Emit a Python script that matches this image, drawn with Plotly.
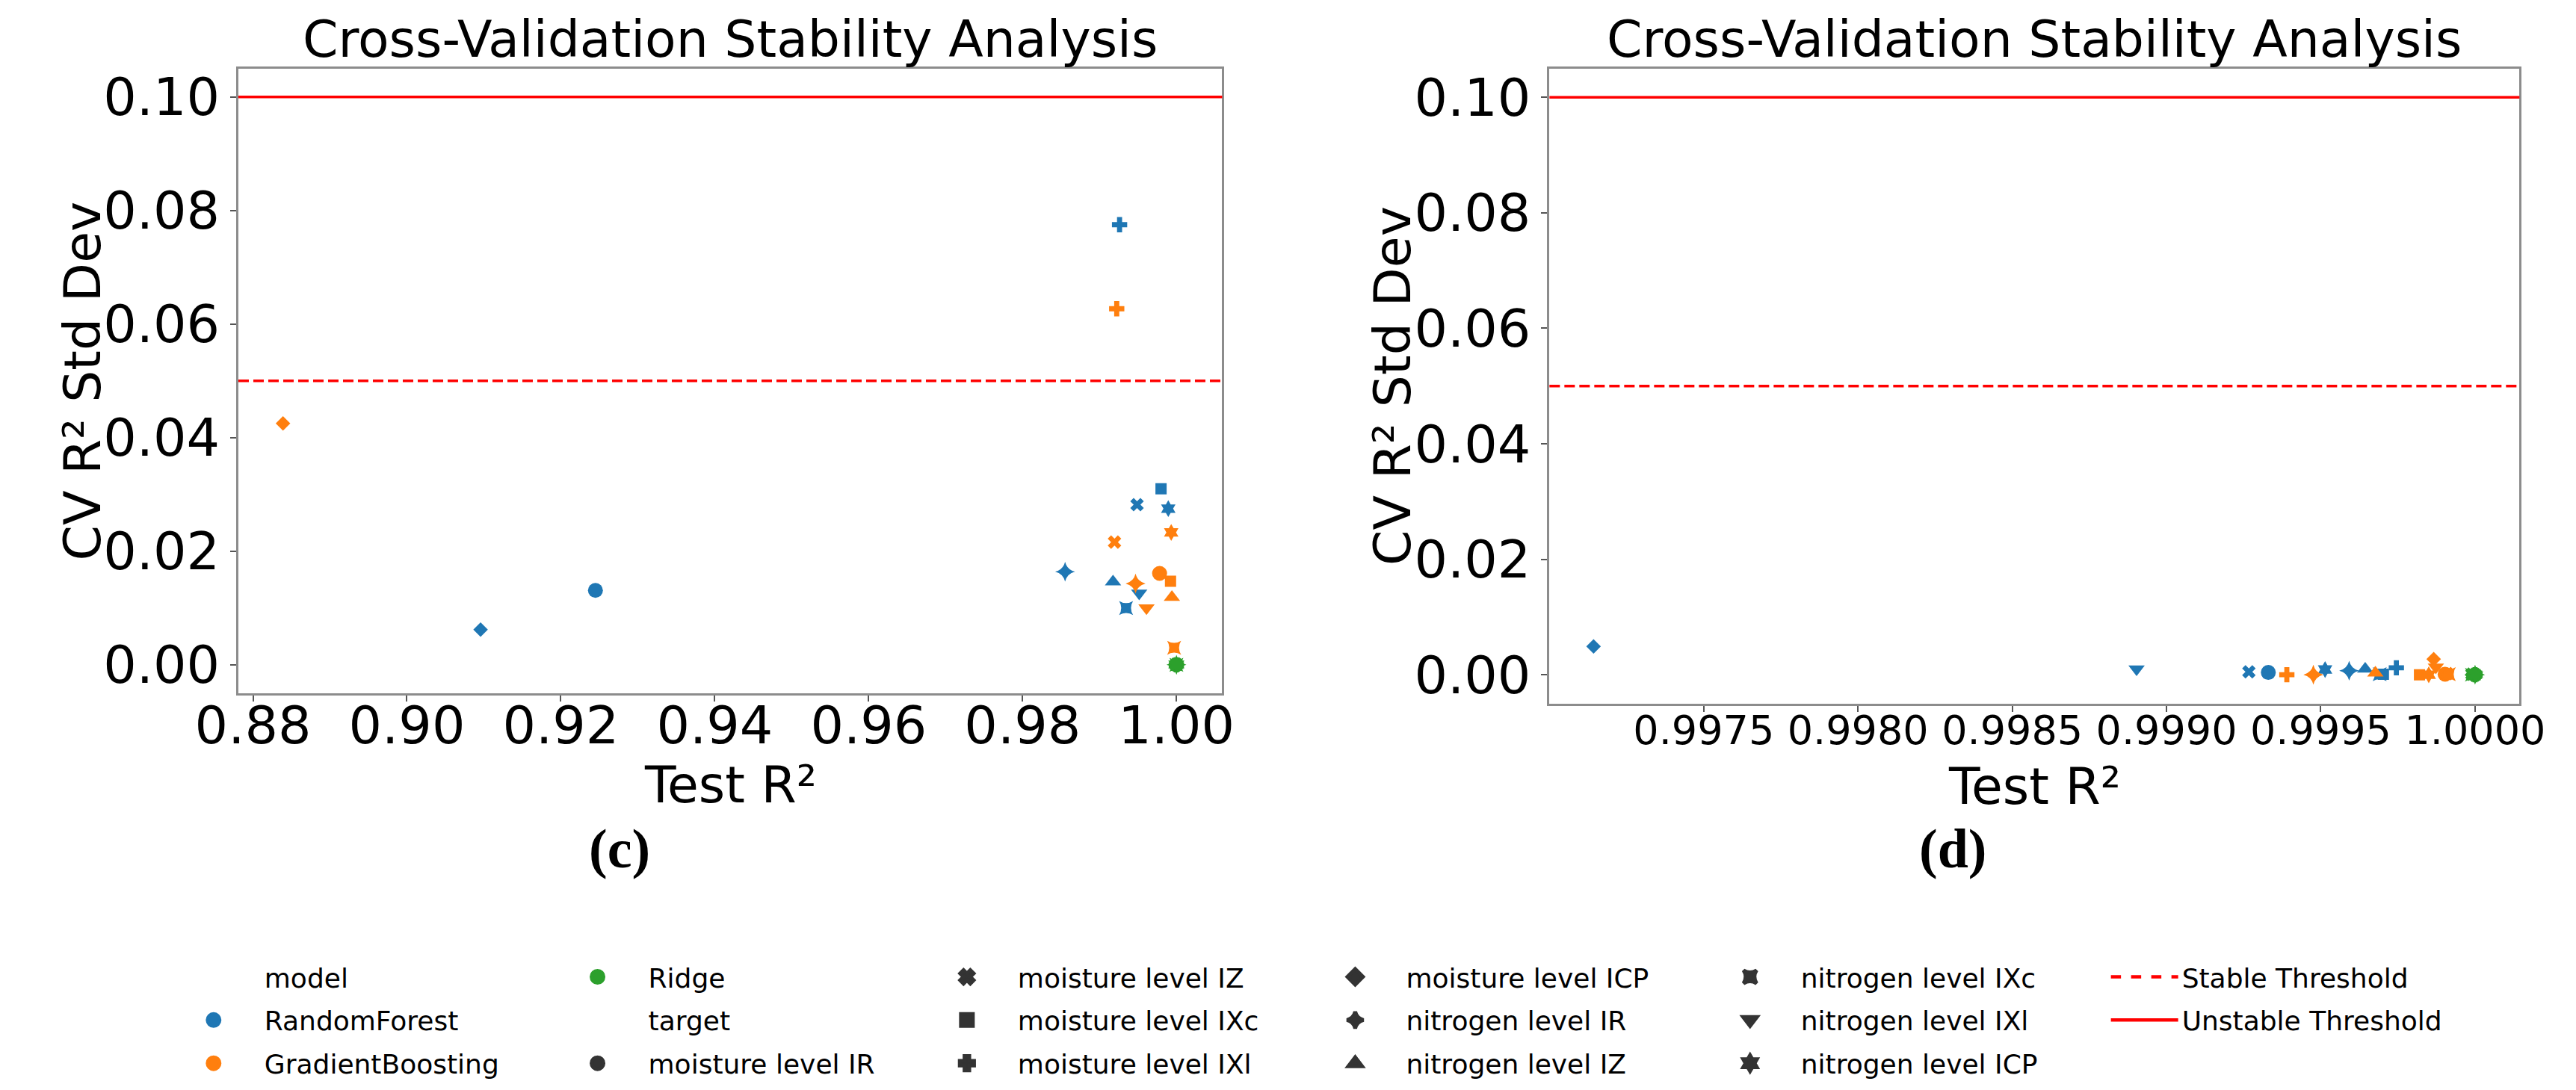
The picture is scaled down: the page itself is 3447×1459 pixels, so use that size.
import plotly.graph_objects as go

# ---------------- data ----------------
models = ["RandomForest", "GradientBoosting", "Ridge"]
targets = ["moisture level IR", "moisture level IZ", "moisture level IXc", "moisture level IXl",
           "moisture level ICP", "nitrogen level IR", "nitrogen level IZ", "nitrogen level IXc",
           "nitrogen level IXl", "nitrogen level ICP"]

# panel (c)
c_rf_r2 = [0.9245, 0.99488, 0.99800, 0.99261, 0.90957, 0.98553, 0.99176, 0.99346, 0.99516, 0.99894]
c_rf_std = [0.0131, 0.0282, 0.0310, 0.0775, 0.0062, 0.0164, 0.0146, 0.0100, 0.0126, 0.0275]
c_gb_r2 = [0.99781, 0.99195, 0.99923, 0.99224, 0.88390, 0.99469, 0.99941, 0.99970, 0.99611, 0.99932]
c_gb_std = [0.0161, 0.0216, 0.0147, 0.0627, 0.0425, 0.0143, 0.0119, 0.0030, 0.0100, 0.0233]
c_rg_r2 = [0.99999, 0.99999, 1.00000, 0.99999, 0.99998, 1.00000, 0.99999, 1.00000, 0.99999, 1.00000]
c_rg_std = [0.0000, 0.0001, 0.0000, 0.0000, 0.0001, 0.0000, 0.0000, 0.0000, 0.0001, 0.0000]

# panel (d)
d_rf_r2 = [0.99933, 0.999267, 0.999703, 0.999745, 0.997143, 0.999592, 0.999644, 0.999691, 0.998903, 0.999514]
d_rf_std = [0.0004, 0.0005, 0.0001, 0.0012, 0.0049, 0.0007, 0.0010, 0.0001, 0.0010, 0.0009]
d_gb_r2 = [0.999903, 0.999910, 0.999820, 0.999390, 0.999866, 0.999476, 0.999677, 0.999915, 0.999873, 0.999850]
d_gb_std = [0.0001, 0.0002, 0.0000, 0.0000, 0.0027, 0.0000, 0.0003, 0.0001, 0.0013, 0.0000]
d_rg_r2 = [1.00000, 0.99999, 1.00000, 1.00000, 0.99999, 1.00000, 1.00000, 0.99999, 1.00000, 1.00000]
d_rg_std = [0.0000, 0.0001, 0.0000, 0.0000, 0.0000, 0.0000, 0.0001, 0.0000, 0.0000, 0.0000]

stable_threshold = 0.05
unstable_threshold = 0.10

c_xticks = [0.88, 0.90, 0.92, 0.94, 0.96, 0.98, 1.00]
d_xticks = [0.9975, 0.9980, 0.9985, 0.9990, 0.9995, 1.0000]
yticks = [0.00, 0.02, 0.04, 0.06, 0.08, 0.10]

# ---------------- styles ----------------
model_colors = {"RandomForest": "#1f77b4", "GradientBoosting": "#ff7f0e", "Ridge": "#2ca02c"}
target_symbols = ["circle", "x", "square", "cross", "diamond", "star-diamond",
                  "triangle-up", "star-square", "triangle-down", "hexagram"]
symbol_sizes = {"circle": 20, "x": 16, "square": 15, "cross": 17, "diamond": 15,
                "star-diamond": 19, "triangle-up": 19, "star-square": 17,
                "triangle-down": 19, "hexagram": 17}

FONT = "DejaVu Sans"
W, H = 3447, 1459
SPINE = "#8c8c8c"

fig = go.Figure()

panels = [
    ("x", "y", [(c_rf_r2, c_rf_std), (c_gb_r2, c_gb_std), (c_rg_r2, c_rg_std)]),
    ("x2", "y2", [(d_rf_r2, d_rf_std), (d_gb_r2, d_gb_std), (d_rg_r2, d_rg_std)]),
]
sizes = [symbol_sizes[s] for s in target_symbols]
for xa, ya, series in panels:
    for m, (xs, ys) in zip(models, series):
        fig.add_trace(go.Scatter(
            x=xs, y=ys, mode="markers", xaxis=xa, yaxis=ya, showlegend=False,
            text=targets, hovertemplate="%{text}<br>%{x}<br>%{y}<extra>" + m + "</extra>",
            marker=dict(color=model_colors[m], symbol=target_symbols, size=sizes, opacity=1,
                        line=dict(width=0)),
        ))
    fig.add_shape(type="line", xref=xa + " domain", yref=ya, x0=0, x1=1,
                  y0=stable_threshold, y1=stable_threshold,
                  line=dict(color="#ff0000", width=3.5, dash="14px,6px"))
    fig.add_shape(type="line", xref=xa + " domain", yref=ya, x0=0, x1=1,
                  y0=unstable_threshold, y1=unstable_threshold,
                  line=dict(color="#ff0000", width=3.5))

# ---------------- legends (6 columns) ----------------
LEG_FONT = 36
_gid = [0]
def leg_entry(name, legend, color=None, symbol="circle", lines=None):
    _gid[0] += 1
    common = dict(x=[None], y=[None], name=name, legend=legend, legendgroup=f"g{_gid[0]}",
                  hoverinfo="skip")
    if lines is not None:
        fig.add_trace(go.Scatter(mode="lines", line=dict(color="#ff0000", width=4.5, dash=lines), **common))
    elif color is None:
        fig.add_trace(go.Scatter(mode="markers", marker=dict(color="rgba(0,0,0,0)", size=1,
                                                             line=dict(width=0)), **common))
    else:
        fig.add_trace(go.Scatter(mode="markers", marker=dict(color=color, symbol=symbol, size=16,
                                                             line=dict(width=5, color=color)),
                                 **common))

leg_entry("model", "legend")
leg_entry(models[0], "legend", model_colors[models[0]])
leg_entry(models[1], "legend", model_colors[models[1]])
leg_entry(models[2], "legend2", model_colors[models[2]])
leg_entry("target", "legend2")
leg_entry(targets[0], "legend2", "#333333", target_symbols[0])
for i in range(1, 4):
    leg_entry(targets[i], "legend3", "#333333", target_symbols[i])
for i in range(4, 7):
    leg_entry(targets[i], "legend4", "#333333", target_symbols[i])
for i in range(7, 10):
    leg_entry(targets[i], "legend5", "#333333", target_symbols[i])
leg_entry("Stable Threshold", "legend6", lines="dash")
leg_entry("Unstable Threshold", "legend6", lines="solid")

# text start positions (px) of each legend column
col_text_x = [292, 820, 1328, 1862, 2405, 2930]
legs = {}
for k, tx in enumerate(col_text_x):
    key = "legend" if k == 0 else f"legend{k+1}"
    iw = 90 if k == 5 else 126
    legs[key] = dict(x=(tx - iw - 10) / W, xanchor="left", y=(H - 1272) / H, yanchor="top",
                     font=dict(family=FONT, size=LEG_FONT, color="black"),
                     bgcolor="rgba(0,0,0,0)", borderwidth=0, itemwidth=iw,
                     tracegroupgap=8, traceorder="grouped", itemclick=False,
                     itemdoubleclick=False)

def px_x(a, b):
    return [a / W, b / W]

def px_y(top, bottom):
    return [(H - bottom) / H, (H - top) / H]

TICK = 70
axis_common = dict(showline=True, linecolor=SPINE, linewidth=3, mirror=True,
                   ticks="outside", ticklen=8, tickwidth=2, tickcolor="#555555",
                   showgrid=False, zeroline=False)
title_font = dict(family=FONT, size=68, color="black")

fig.update_layout(
    width=W, height=H, autosize=False,
    margin=dict(l=0, r=0, t=0, b=0),
    paper_bgcolor="white", plot_bgcolor="white",
    showlegend=True,
    xaxis=dict(domain=px_x(260, 1613), range=[0.8781, 1.00595], tickvals=c_xticks,
               tickformat=".2f", anchor="y", tickangle=0, ticklabelstandoff=-28,
               tickfont=dict(family=FONT, size=TICK, color="black"), **axis_common),
    yaxis=dict(domain=px_y(82, 921), range=[-0.005, 0.105], tickvals=yticks, tickformat=".2f",
               anchor="x", tickfont=dict(family=FONT, size=TICK, color="black"), **axis_common),
    xaxis2=dict(domain=px_x(2063, 3397), range=[0.997000, 1.000144], tickvals=d_xticks,
                tickformat=".4f", anchor="y2", tickangle=0, ticklabelstandoff=-22,
                tickfont=dict(family=FONT, size=54, color="black"), **axis_common),
    yaxis2=dict(domain=px_y(82, 935), range=[-0.005, 0.105], tickvals=yticks, tickformat=".2f",
                anchor="x2", tickfont=dict(family=FONT, size=TICK, color="black"), **axis_common),
    **legs,
)

# titles, axis titles and panel labels
for cx in [(260 + 1613) / 2, (2063 + 3397) / 2]:
    fig.add_annotation(text="Cross-Validation Stability Analysis", xref="paper", yref="paper",
                       x=cx / W, y=(H - 43) / H, xanchor="center", yanchor="middle", showarrow=False,
                       font=dict(family=FONT, size=68, color="black"))
for cx, cy in [((260 + 1613) / 2, 1044), ((2063 + 3397) / 2, 1046)]:
    fig.add_annotation(text="Test R²", xref="paper", yref="paper", x=cx / W, y=(H - cy) / H,
                       xanchor="center", yanchor="middle", showarrow=False, font=title_font)
for cx, cy in [(46, (82 + 921) / 2), (1848, (82 + 935) / 2)]:
    fig.add_annotation(text="CV R² Std Dev", xref="paper", yref="paper", x=cx / W, y=(H - cy) / H,
                       xanchor="center", yanchor="middle", showarrow=False, textangle=-90,
                       font=title_font)
for lab, cx in [("<b>(c)</b>", 784), ("<b>(d)</b>", 2618)]:
    fig.add_annotation(text=lab, xref="paper", yref="paper", x=cx / W, y=(H - 1130) / H,
                       xanchor="center", yanchor="middle", showarrow=False,
                       font=dict(family="Liberation Serif", size=74, color="black"))

fig.write_html("out.html")
